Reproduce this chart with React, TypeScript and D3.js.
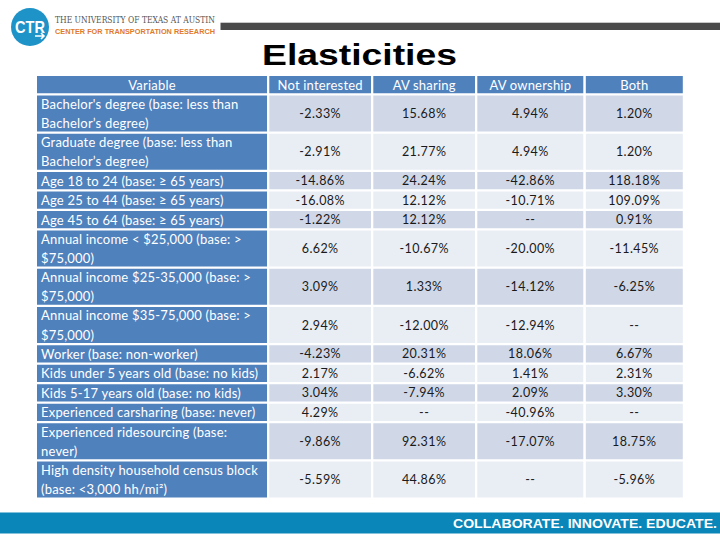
import React from "react";
import * as d3 from "d3";

const columns = ["Not interested", "AV sharing", "AV ownership", "Both"];
const variableHeader = "Variable";
const variables: string[][] = [
  ["Bachelor's degree (base: less than", "Bachelor’s degree)"],
  ["Graduate degree (base: less than", "Bachelor’s degree)"],
  ["Age 18 to 24 (base: ≥ 65 years)"],
  ["Age 25 to 44 (base: ≥ 65 years)"],
  ["Age 45 to 64 (base: ≥ 65 years)"],
  ["Annual income < $25,000 (base: >", "$75,000)"],
  ["Annual income $25-35,000 (base: >", "$75,000)"],
  ["Annual income $35-75,000 (base: >", "$75,000)"],
  ["Worker (base: non-worker)"],
  ["Kids under 5 years old (base: no kids)"],
  ["Kids 5-17 years old (base: no kids)"],
  ["Experienced carsharing (base: never)"],
  ["Experienced ridesourcing (base:", "never)"],
  ["High density household census block", "(base: <3,000 hh/mi²)"],
];
const notInterested: (number | null)[] = [-2.33, -2.91, -14.86, -16.08, -1.22, 6.62, 3.09, 2.94, -4.23, 2.17, 3.04, 4.29, -9.86, -5.59];
const avSharing: (number | null)[] = [15.68, 21.77, 24.24, 12.12, 12.12, -10.67, 1.33, -12.0, 20.31, -6.62, -7.94, null, 92.31, 44.86];
const avOwnership: (number | null)[] = [4.94, 4.94, -42.86, -10.71, null, -20.0, -14.12, -12.94, 18.06, 1.41, 2.09, -40.96, -17.07, null];
const both: (number | null)[] = [1.2, 1.2, 118.18, 109.09, 0.91, -11.45, -6.25, null, 6.67, 2.31, 3.3, null, 18.75, -5.96];
const series = [notInterested, avSharing, avOwnership, both];

const title = "Elasticities";
const footer = "COLLABORATE. INNOVATE. EDUCATE.";
const orgLine1 = "THE UNIVERSITY OF TEXAS AT AUSTIN";
const orgLine2 = "CENTER FOR TRANSPORTATION RESEARCH";

const W = 720;
const H = 540;
const BLUE = "#4f81bd";
const DARK = "#d0d8e8";
const LIGHT = "#e9edf4";

const locale = d3.formatLocale({ decimal: ".", thousands: ",", grouping: [3], currency: ["$", ""], minus: "-" });
const f2 = locale.format(".2f");
const fmt = (v: number | null) => (v === null ? "--" : f2(v) + "%");

export default function App() {
  const TOP = 76;
  const SINGLE = 17.25;
  const DOUBLE = 36;
  const GAP = 2.25;
  const heights = [SINGLE, ...variables.map((v) => (v.length > 1 ? DOUBLE : SINGLE))];
  const tops: number[] = [];
  let acc = TOP;
  heights.forEach((h) => {
    tops.push(acc);
    acc += h + GAP;
  });

  const colX = [37, 269.3, 373.3, 477.3, 585.8];
  const colW = [230, 101.7, 101.7, 106, 97];

  const font = "Lato, 'Open Sans', sans-serif";

  return (
    <div style={{ position: "absolute", left: 0, top: 0 }}>
      <svg width={W} height={H} style={{ display: "block", background: "#fff" }}>
        {/* logo */}
        <circle cx={30} cy={27} r={19} fill="#1e93c8" />
        <text x={30} y={33} textAnchor="middle" fill="#fff" fontFamily="'Liberation Sans', Arial, sans-serif" fontWeight="bold" fontSize={17} textLength={30} lengthAdjust="spacingAndGlyphs">CTR</text>
        <path d="M35,36 L44,36 M41,33 L44,36 L41,39" stroke="#fff" strokeWidth={1.6} fill="none" />
        <text x={55} y={23} fill="#555" fontFamily="'DejaVu Serif', 'Liberation Serif', serif" fontSize={8.5} textLength={160} lengthAdjust="spacingAndGlyphs">{orgLine1}</text>
        <text x={55} y={34} fill="#e07a2c" fontFamily="'Liberation Sans', Arial, sans-serif" fontWeight="bold" fontSize={7.5} textLength={160} lengthAdjust="spacingAndGlyphs">{orgLine2}</text>
        <rect x={220.5} y={22.7} width={W - 220.5} height={7.3} fill="#4a4a4a" />

        {/* title */}
        <text x={262} y={64.5} fill="#000" fontFamily="'Liberation Sans', Arial, sans-serif" fontWeight="bold" fontSize={30} textLength={195} lengthAdjust="spacingAndGlyphs">{title}</text>

        {/* header row */}
        <rect x={colX[0]} y={tops[0]} width={colW[0]} height={heights[0]} fill={BLUE} />
        <text x={colX[0] + colW[0] / 2} y={tops[0] + heights[0] / 2} textAnchor="middle" dominantBaseline="central" fill="#fff" fontFamily={font} fontSize={13} letterSpacing={0.2}>{variableHeader}</text>
        {columns.map((c, j) => (
          <g key={c}>
            <rect x={colX[j + 1]} y={tops[0]} width={colW[j + 1]} height={heights[0]} fill={BLUE} />
            <text x={colX[j + 1] + colW[j + 1] / 2} y={tops[0] + heights[0] / 2} textAnchor="middle" dominantBaseline="central" fill="#fff" fontFamily={font} fontSize={13} letterSpacing={0.2}>{c}</text>
          </g>
        ))}

        {/* body rows */}
        {variables.map((lines, i) => {
          const top = tops[i + 1];
          const h = heights[i + 1];
          const cy = top + h / 2;
          const fill = i % 2 === 0 ? DARK : LIGHT;
          const pitch = 19.3;
          return (
            <g key={i}>
              <rect x={colX[0]} y={top} width={colW[0]} height={h} fill={BLUE} />
              {lines.map((ln, k) => (
                <text key={k} x={41} y={cy + (k - (lines.length - 1) / 2) * pitch} dominantBaseline="central" fill="#fff" fontFamily={font} fontSize={13} letterSpacing={0.2}>{ln}</text>
              ))}
              {series.map((s, j) => (
                <g key={j}>
                  <rect x={colX[j + 1]} y={top} width={colW[j + 1]} height={h} fill={fill} />
                  <text x={colX[j + 1] + colW[j + 1] / 2} y={cy} textAnchor="middle" dominantBaseline="central" fill="#1a1a1a" fontFamily={font} fontSize={12.5} letterSpacing={0.4}>{fmt(s[i])}</text>
                </g>
              ))}
            </g>
          );
        })}

        {/* footer */}
        <rect x={0} y={512.5} width={W} height={21} fill="#0b86b8" />
        <text x={453} y={528} fill="#fff" fontFamily="'Liberation Sans', Arial, sans-serif" fontWeight="bold" fontSize={12.5} textLength={264} lengthAdjust="spacingAndGlyphs">{footer}</text>
      </svg>
    </div>
  );
}
